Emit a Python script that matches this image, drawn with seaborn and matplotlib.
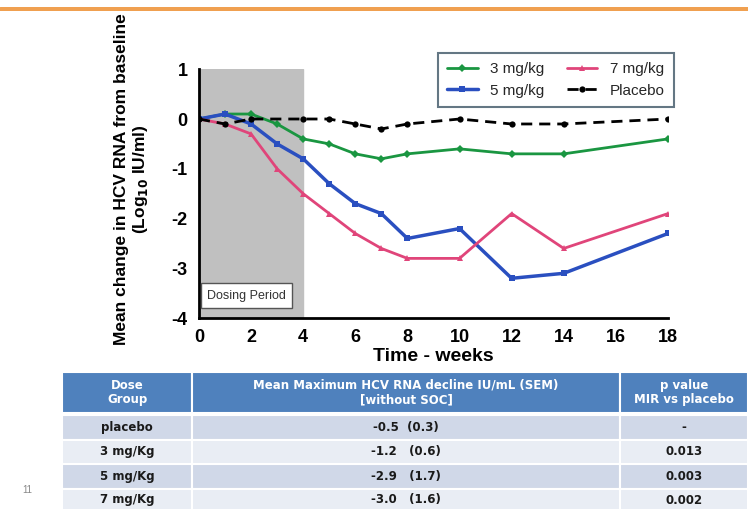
import pandas as pd
import matplotlib.pyplot as plt
import matplotlib.patches as mpatches
import seaborn as sns

# weeks and mean change for each dose group
semanas = [0, 1, 2, 3, 4, 5, 6, 7, 8, 10, 12, 14, 18]
dose_3 = [0, 0.1, 0.1, -0.1, -0.4, -0.5, -0.7, -0.8, -0.7, -0.6, -0.7, -0.7, -0.4]
dose_5 = [0, 0.1, -0.1, -0.5, -0.8, -1.3, -1.7, -1.9, -2.4, -2.2, -3.2, -3.1, -2.3]
dose_7 = [0, -0.1, -0.3, -1.0, -1.5, -1.9, -2.3, -2.6, -2.8, -2.8, -1.9, -2.6, -1.9]
semanas_placebo = [0, 1, 2, 4, 5, 6, 7, 8, 10, 12, 14, 18]
placebo = [0, -0.1, 0, 0, 0, -0.1, -0.2, -0.1, 0, -0.1, -0.1, 0]

# tabela
cabecalho = ['Dose\nGroup', 'Mean Maximum HCV RNA decline IU/mL (SEM)\n[without SOC]', 'p value\nMIR vs placebo']
grupos = ['placebo', '3 mg/Kg', '5 mg/Kg', '7 mg/Kg']
declinio = ['-0.5  (0.3)', '-1.2   (0.6)', '-2.9   (1.7)', '-3.0   (1.6)']
p_valor = ['-', '0.013', '0.003', '0.002']

sns.set_style('white')
plt.rcParams['font.family'] = ['Liberation Sans', 'DejaVu Sans']
plt.rcParams['axes.unicode_minus'] = False

fig = plt.figure(figsize=(7.48, 5.09), dpi=100)

# faixa laranja do slide
faixa = fig.add_axes([0, 0.978, 1, 0.008])
faixa.axis('off')
faixa.add_patch(mpatches.Rectangle((0, 0), 1, 1, color='#f0a050'))

ax = fig.add_axes([0.266, 0.375, 0.627, 0.489])

ax.axvspan(0, 4, ymin=0, ymax=1, color='#c0c0c0', zorder=0)
ax.text(0.3, -3.55, 'Dosing Period', fontsize=9, color='#333333', va='center',
        bbox=dict(boxstyle='square,pad=0.5', fc='white', ec='#555555', lw=1))

sns.lineplot(x=semanas, y=dose_3, ax=ax, color='#1a9641', marker='D', markersize=4,
             markeredgewidth=0, linewidth=2, label='3 mg/kg')
sns.lineplot(x=semanas, y=dose_5, ax=ax, color='#2a4fc0', marker='s', markersize=5,
             markeredgewidth=0, linewidth=2.5, label='5 mg/kg')
sns.lineplot(x=semanas, y=dose_7, ax=ax, color='#e0457a', marker='^', markersize=4,
             markeredgewidth=0, linewidth=2, label='7 mg/kg')
sns.lineplot(x=semanas_placebo, y=placebo, ax=ax, color='black', marker='o', markersize=4.5,
             markeredgewidth=0, linewidth=2, linestyle=(0, (4, 2.5)), label='Placebo')

ax.set_xlim(0, 18)
ax.set_ylim(-4, 1)
ax.set_xticks(range(0, 19, 2))
ax.set_yticks(range(-4, 2))
ax.tick_params(direction='out', length=6, width=2, labelsize=13, pad=2,
               colors='black', labelcolor='black')
for lbl in ax.get_xticklabels() + ax.get_yticklabels():
    lbl.set_fontweight('bold')
for s in ['top', 'right']:
    ax.spines[s].set_visible(False)
for s in ['left', 'bottom']:
    ax.spines[s].set_linewidth(2)
    ax.spines[s].set_color('black')
ax.set_xlabel('Time - weeks', fontsize=14, fontweight='bold', labelpad=1, color='black')
ax.set_ylabel('Mean change in HCV RNA from baseline\n(Log$_{\\mathbf{10}}$ IU/ml)',
              fontsize=12.5, fontweight='bold', linespacing=1.1, color='black')
ax.yaxis.set_label_coords(-0.105, 0.56)

leg = ax.legend(loc='center', bbox_to_anchor=(0.743, 0.843), bbox_transform=fig.transFigure,
                ncol=2, fontsize=11, frameon=True, fancybox=False, handlelength=2.0,
                columnspacing=1.5, borderpad=0.6, handletextpad=0.8)
leg.get_frame().set_edgecolor('#3d5566')
leg.get_frame().set_linewidth(1.5)

# tabela desenhada em pixels da figura
tab = fig.add_axes([62 / 748, 0, 686 / 748, 137 / 509])
tab.set_xlim(62, 748)
tab.set_ylim(509, 372)
tab.axis('off')

colunas = [(62, 192), (192, 620), (620, 748)]
linhas = [(415, 439.5), (439.5, 464), (464, 488.5), (488.5, 513)]
cores_linha = ['#d0d8e8', '#e9edf4', '#d0d8e8', '#e9edf4']

for (x0, x1), texto in zip(colunas, cabecalho):
    tab.add_patch(mpatches.Rectangle((x0, 372), x1 - x0, 41, fc='#4f81bd', ec='white', lw=1.5))
    tab.text((x0 + x1) / 2, 392.5, texto, color='white', fontsize=8.5, fontweight='bold',
             ha='center', va='center', family='DejaVu Sans', linespacing=1.1)

for i, (y0, y1) in enumerate(linhas):
    valores = [grupos[i], declinio[i], p_valor[i]]
    for (x0, x1), texto in zip(colunas, valores):
        tab.add_patch(mpatches.Rectangle((x0, y0), x1 - x0, y1 - y0, fc=cores_linha[i],
                                         ec='white', lw=1.5))
        yc = min((y0 + y1) / 2, 500)
        tab.text((x0 + x1) / 2, yc, texto, color='#1a1a1a', fontsize=8.5,
                 fontweight='bold', ha='center', va='center', family='DejaVu Sans')

fig.text(27 / 748, 1 - 490 / 509, '11', fontsize=7, color='#888888', ha='center', va='center')

plt.savefig('out.png', dpi=100)
